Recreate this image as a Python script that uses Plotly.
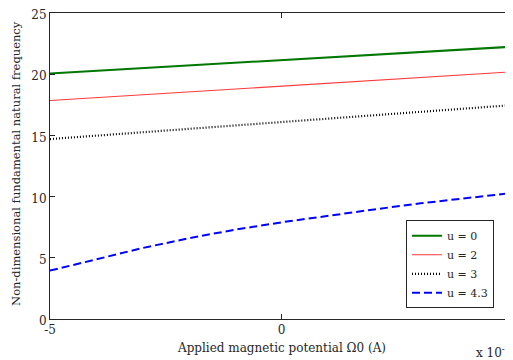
import plotly.graph_objects as go

x_vals = [-5e-4, -4e-4, -3e-4, -2e-4, -1e-4, 0.0, 1e-4, 2e-4, 3e-4, 4e-4, 5e-4]
u0 = [20.05, 20.27, 20.49, 20.71, 20.93, 21.15, 21.37, 21.59, 21.81, 22.03, 22.25]
u2 = [17.85, 18.09, 18.33, 18.56, 18.79, 19.02, 19.25, 19.5, 19.74, 19.97, 20.2]
u3 = [14.7, 14.98, 15.26, 15.54, 15.82, 16.1, 16.37, 16.65, 16.93, 17.2, 17.48]
u43 = [3.95, 4.9, 5.8, 6.6, 7.3, 7.9, 8.45, 8.95, 9.45, 9.9, 10.3]

names = ["u = 0", "u = 2", "u = 3", "u = 4.3"]
x_ticks = [-5e-4, 0.0, 5e-4]
x_tick_text = ["-5", "0", "5"]
y_ticks = [0, 5, 10, 15, 20, 25]

font_fam = "DejaVu Serif, Liberation Serif, serif"
txt_col = "#262626"

fig = go.Figure()
fig.add_trace(go.Scatter(x=x_vals, y=u0, mode="lines", name=names[0],
                         line=dict(color="#007800", width=2)))
fig.add_trace(go.Scatter(x=x_vals, y=u2, mode="lines", name=names[1],
                         line=dict(color="#ff3a3a", width=1.1)))
fig.add_trace(go.Scatter(x=x_vals, y=u3, mode="lines", name=names[2],
                         line=dict(color="black", width=2.2, dash="1px,2px")))
fig.add_trace(go.Scatter(x=x_vals, y=u43, mode="lines", name=names[3],
                         line=dict(color="#0000ff", width=2, dash="8px,4px")))

axis_common = dict(showgrid=False, zeroline=False, showline=True, linecolor=txt_col,
                   linewidth=1, mirror="ticks", ticks="inside", ticklen=5,
                   tickcolor=txt_col, automargin=False, ticklabeloverflow="allow",
                   tickfont=dict(family=font_fam, size=12, color=txt_col))

# page body has an 8px default margin, so the figure is sized to land on the 513x360 window
fig.update_layout(
    width=505, height=352,
    margin=dict(l=42, r=0, t=5, b=41),
    paper_bgcolor="white", plot_bgcolor="white",
    font=dict(family=font_fam, color=txt_col),
    xaxis=dict(range=[-5e-4, 5e-4], tickvals=x_ticks, ticktext=x_tick_text, **axis_common),
    yaxis=dict(range=[0, 25], tickvals=y_ticks, ticklabelshift=2, **axis_common),
    legend=dict(x=0.959, y=0.035, xanchor="right", yanchor="bottom",
                bgcolor="white", bordercolor=txt_col, borderwidth=1,
                font=dict(family=font_fam, size=11, color=txt_col),
                tracegroupgap=0, itemwidth=30),
    showlegend=True,
)
fig.add_annotation(text="Applied magnetic potential Ω0 (A)", xref="paper", yref="paper",
                   x=0.5, y=-0.094, xanchor="center", yanchor="middle", showarrow=False,
                   font=dict(family=font_fam, size=12, color=txt_col))
fig.add_annotation(text="Non-dimensional fundamental natural frequency", xref="paper", yref="paper",
                   x=-0.072, y=0.509, xanchor="center", yanchor="middle", showarrow=False,
                   textangle=-90, font=dict(family=font_fam, size=11.5, color=txt_col))
fig.add_annotation(text="x 10<sup>-4</sup>", xref="paper", yref="paper", x=0.998, y=-0.108,
                   xanchor="right", yanchor="middle", showarrow=False,
                   font=dict(family=font_fam, size=12, color=txt_col))

fig.write_html("out.html")
